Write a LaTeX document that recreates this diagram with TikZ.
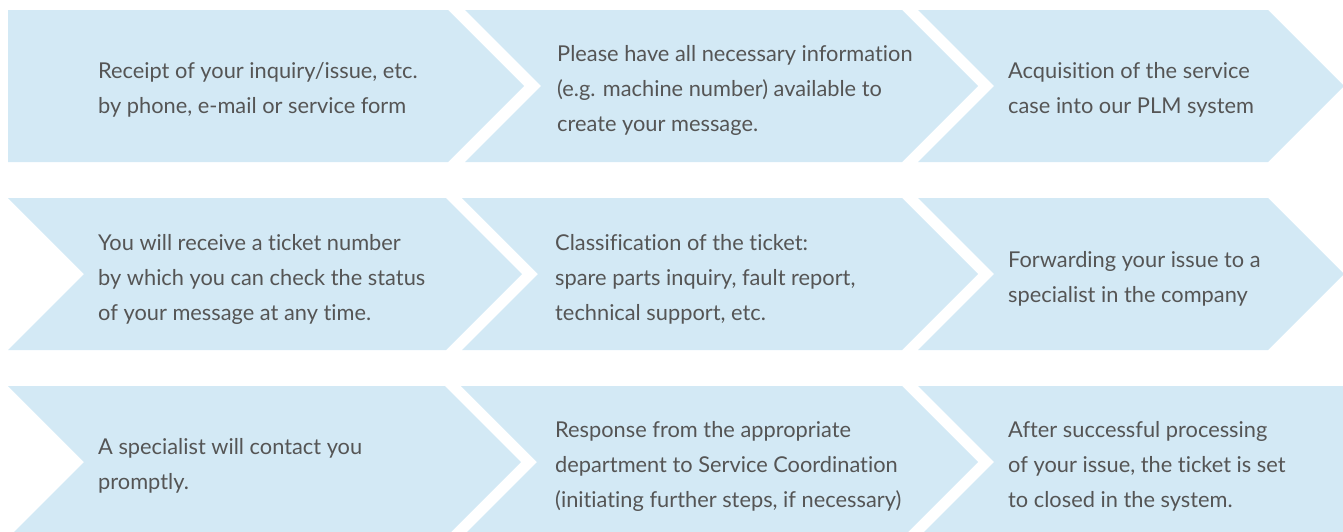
\documentclass[tikz,border=0pt]{standalone}
\usepackage{fontspec}
\setmainfont{Lato}[Ligatures=NoCommon]
\definecolor{chevfill}{HTML}{D3E9F5}
\definecolor{txtgray}{HTML}{555555}
\begin{document}
\begin{tikzpicture}[x=1pt,y=-1pt,
  chev/.style={fill=chevfill,draw=none},
  steptext/.style={anchor=west,align=left,inner sep=0pt,text=txtgray,
    font=\fontsize{21.8}{35}\selectfont}]
\useasboundingbox (0,0) rectangle (1343,531);
\clip (0,0) rectangle (1343,531);
% row 1
\fill[chevfill] (8,10) -- (448,10) -- (524,86) -- (448,162) -- (8,162) -- cycle;
\fill[chevfill] (465,10) -- (902,10) -- (978,86) -- (902,162) -- (465,162) -- (541,86) -- cycle;
\fill[chevfill] (918,10) -- (1268,10) -- (1344,86) -- (1268,162) -- (918,162) -- (994,86) -- cycle;
% row 2
\fill[chevfill] (8,198) -- (446,198) -- (522,274) -- (446,350) -- (8,350) -- (84,274) -- cycle;
\fill[chevfill] (462,198) -- (902,198) -- (978,274) -- (902,350) -- (462,350) -- (538,274) -- cycle;
\fill[chevfill] (918,198) -- (1268,198) -- (1344,274) -- (1268,350) -- (918,350) -- (994,274) -- cycle;
% row 3
\fill[chevfill] (8,386) -- (445,386) -- (521,462) -- (445,538) -- (8,538) -- (84,462) -- cycle;
\fill[chevfill] (461,386) -- (902,386) -- (978,462) -- (902,538) -- (461,538) -- (537,462) -- cycle;
\fill[chevfill] (918,386) -- (1350,386) -- (1350,538) -- (918,538) -- (994,462) -- cycle;
% texts
\node[steptext] (t1) at (98,90) {Receipt of your inquiry/issue, etc.\\by phone, e-mail or service form};
\node[steptext] (t2) at (557,90) {Please have all necessary information\\(e.g. machine number) available to\\create your message.};
\node[steptext] (t3) at (1008,90) {Acquisition of the service\\case into our PLM system};
\node[steptext] (t4) at (98,279) {You will receive a ticket number\\by which you can check the status\\of your message at any time.};
\node[steptext] (t5) at (555,279) {Classification of the ticket:\\spare parts inquiry, fault report,\\technical support, etc.};
\node[steptext] (t6) at (1008,279) {Forwarding your issue to a\\specialist in the company};
\node[steptext] (t7) at (98,466) {A specialist will contact you\\promptly.};
\node[steptext] (t8) at (555,466) {Response from the appropriate\\department to Service Coordination\\(initiating further steps, if necessary)};
\node[steptext] (t9) at (1008,466) {After successful processing\\of your issue, the ticket is set\\to closed in the system.};
\end{tikzpicture}
\end{document}
